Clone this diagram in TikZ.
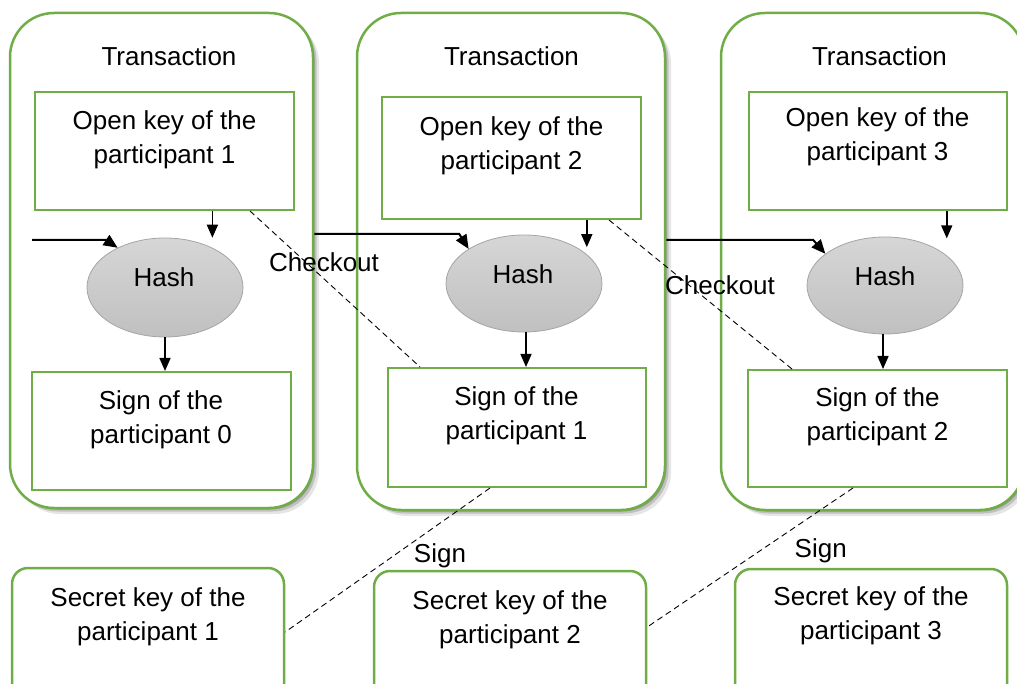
\documentclass[tikz,border=0pt]{standalone}
\usepackage{fontspec}
\setmainfont{Liberation Sans}
\usetikzlibrary{shapes.geometric,arrows.meta,shadows,calc}
\definecolor{grn}{RGB}{112,173,71}
\definecolor{hashtop}{RGB}{214,214,214}
\definecolor{hashbot}{RGB}{192,192,192}
\definecolor{hashline}{RGB}{165,165,165}
\begin{document}
\begin{tikzpicture}[x=1pt,y=-1pt,
  txt/.style={font=\fontsize{26}{34}\selectfont, align=center, inner sep=0pt},
  softshadow/.style={
    drop shadow={shadow xshift=1.5pt,shadow yshift=-1.5pt,opacity=.22,fill=black},
    drop shadow={shadow xshift=3.5pt,shadow yshift=-3.5pt,opacity=.16,fill=black},
    drop shadow={shadow xshift=6pt,shadow yshift=-6pt,opacity=.10,fill=black}},
  transbox/.style={draw=grn, line width=2.5pt, rounded corners=44pt, fill=white,
    inner sep=0pt, softshadow},
  secbox/.style={draw=grn, line width=2.5pt, rounded corners=16pt, fill=white, inner sep=0pt},
  keybox/.style={draw=grn, line width=2pt, fill=white, inner sep=0pt},
  hashnode/.style={ellipse, draw=hashline, line width=0.8pt, top color=hashtop,
    bottom color=hashbot, inner sep=0pt, minimum width=156pt},
  arr/.style={line width=1.5pt, -{Triangle[length=13pt,width=11pt]}},
  harr/.style={line width=2pt, -{Triangle[length=14pt,width=12pt]}},
  dsh/.style={line width=0.9pt, dash pattern=on 6pt off 4pt}
]
\useasboundingbox (0,0) rectangle (1017,684);
\clip (0,0) rectangle (1017,684);

% transaction containers
\node[transbox, minimum width=303pt, minimum height=495pt] (T1) at (161.5,260.5) {};
\node[transbox, minimum width=308pt, minimum height=497pt] (T2) at (511,261.5) {};
\node[transbox, minimum width=303pt, minimum height=497pt] (T3) at (872.5,261.5) {};

% secret keys
\node[secbox, minimum width=272pt, minimum height=162pt] (SK1) at (148,649) {};
\node[secbox, minimum width=272pt, minimum height=159pt] (SK2) at (510,650.5) {};
\node[secbox, minimum width=272pt, minimum height=161pt] (SK3) at (871,649.5) {};

% open keys
\node[keybox, minimum width=259pt, minimum height=118pt] (ok1) at (164.5,151) {};
\node[keybox, minimum width=259pt, minimum height=122pt] (ok2) at (511.5,158) {};
\node[keybox, minimum width=258pt, minimum height=118pt] (ok3) at (877.5,151) {};

% signs
\node[keybox, minimum width=259pt, minimum height=118pt] (S1) at (161.5,431) {};
\node[keybox, minimum width=258pt, minimum height=119pt] (S2) at (517,427.5) {};
\node[keybox, minimum width=259pt, minimum height=117pt] (S3) at (877.5,428.5) {};

% hashes
\node[hashnode, minimum height=99pt] (H1) at (165,287.5) {};
\node[hashnode, minimum height=97pt] (H2) at (524,283.5) {};
\node[hashnode, minimum height=97pt] (H3) at (885,285.5) {};

% texts
\node[txt] (T1t) at (169,55.8) {Transaction};
\node[txt] (T2t) at (511.5,55.8) {Transaction};
\node[txt] (T3t) at (879.5,55.8) {Transaction};

\node[txt] (ok1t) at (164.5,139.5) {Open key of the\\participant 1};
\node[txt] (ok2t) at (511.5,145.5) {Open key of the\\participant 2};
\node[txt] (ok3t) at (877.5,137.2) {Open key of the\\participant 3};

\node[txt] (S1t) at (161,419.3) {Sign of the\\participant 0};
\node[txt] (S2t) at (516.5,415.5) {Sign of the\\participant 1};
\node[txt] (S3t) at (877.5,417.2) {Sign of the\\participant 2};

\node[txt] (SK1t) at (148,616.5) {Secret key of the\\participant 1};
\node[txt] (SK2t) at (510,619.5) {Secret key of the\\participant 2};
\node[txt] (SK3t) at (871,615.5) {Secret key of the\\participant 3};

\node[txt] (H1t) at (164,276.8) {Hash};
\node[txt] (H2t) at (523,273.8) {Hash};
\node[txt] (H3t) at (885,275.8) {Hash};

% arrows
\coordinate (in0) at (32,240);
\draw[harr] (in0) -- ++(74,0) -- (H1.140);
\draw[harr] ([yshift=26.5pt]T1.east) -- ++(145,0) -- (H2.148);
\draw[harr] ([yshift=21.5pt]T2.east) -- ++(147,0) -- (H3.152);

\draw[arr, shorten >=10pt] (H1.40 |- ok1.south) -- (H1.40);
\draw[arr, shorten >=7pt] (H2.25 |- ok2.south) -- (H2.25);
\draw[arr, shorten >=17pt] (H3.26 |- ok3.south) -- (H3.26);

\draw[arr] (H1.south) -- (H1.south |- S1.north);
\draw[arr] ([xshift=2pt]H2.south) -- ([xshift=2pt]H2.south |- S2.north);
\draw[arr] ([xshift=-2pt]H3.south) -- ([xshift=-2pt]H3.south |- S3.north);

% dashed relations
\draw[dsh] ([xshift=85.5pt]ok1.south) -- ([xshift=-97pt]S2.north);
\draw[dsh] ([xshift=97.5pt]ok2.south) -- ([xshift=-85.5pt]S3.north);
\draw[dsh] ([xshift=-27pt]S2.south) -- ([yshift=17pt]SK1.east);
\draw[dsh] ([xshift=-24.5pt]S3.south) -- ([yshift=23.5pt]SK2.east);

\node[txt] (chk1) at (324,261.8) {Checkout};
\node[txt] (chk2) at (720,284.8) {Checkout};
\node[txt] (sig1) at (440,555.5) {Sign};
\node[txt] (sig2) at (820.7,550.8) {Sign};
\end{tikzpicture}
\end{document}
